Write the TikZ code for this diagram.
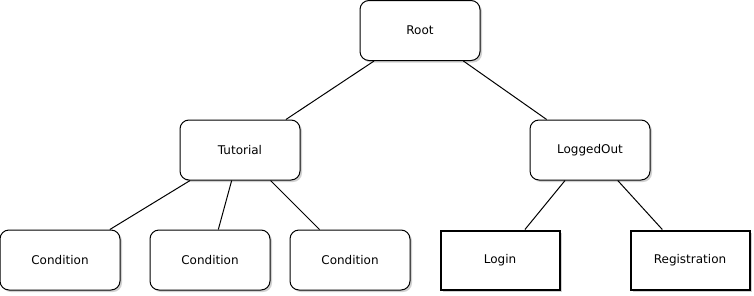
\documentclass[tikz,border=0pt]{standalone}
\usepackage{fontspec}
\setmainfont{DejaVu Sans}
\usetikzlibrary{shadows}
\begin{document}
\begin{tikzpicture}[x=1pt,y=-1pt,
  box/.style={draw=black, fill=white, line width=1pt, minimum width=120pt, minimum height=60pt,
    inner sep=0pt, font=\fontsize{12pt}{14pt}\selectfont,
    drop shadow={shadow xshift=2pt, shadow yshift=-2pt, fill=gray!60, opacity=0.6}},
  rbox/.style={box, rounded corners=9pt},
  sbox/.style={box, line width=2pt, minimum width=119pt, minimum height=59pt},
  edge/.style={draw=black, line width=1pt}]
\useasboundingbox (0,0) rectangle (754,295);
\node[rbox] (root) at (420,30.5) {Root};
\node[rbox] (tut) at (240,150) {Tutorial};
\node[rbox] (lo) at (590,150) {LoggedOut};
\node[rbox] (c1) at (60,260) {Condition};
\node[rbox] (c2) at (210,260) {Condition};
\node[rbox] (c3) at (350,260) {Condition};
\node[sbox] (login) at (500,260) {Login};
\node[sbox] (reg) at (690,260) {Registration};
\draw[edge] (root) -- (tut);
\draw[edge] (root) -- (lo);
\draw[edge] (tut) -- (c1);
\draw[edge] (tut) -- (c2);
\draw[edge] (tut) -- (c3);
\draw[edge] (lo) -- (login);
\draw[edge] (lo) -- (reg);
\end{tikzpicture}
\end{document}
